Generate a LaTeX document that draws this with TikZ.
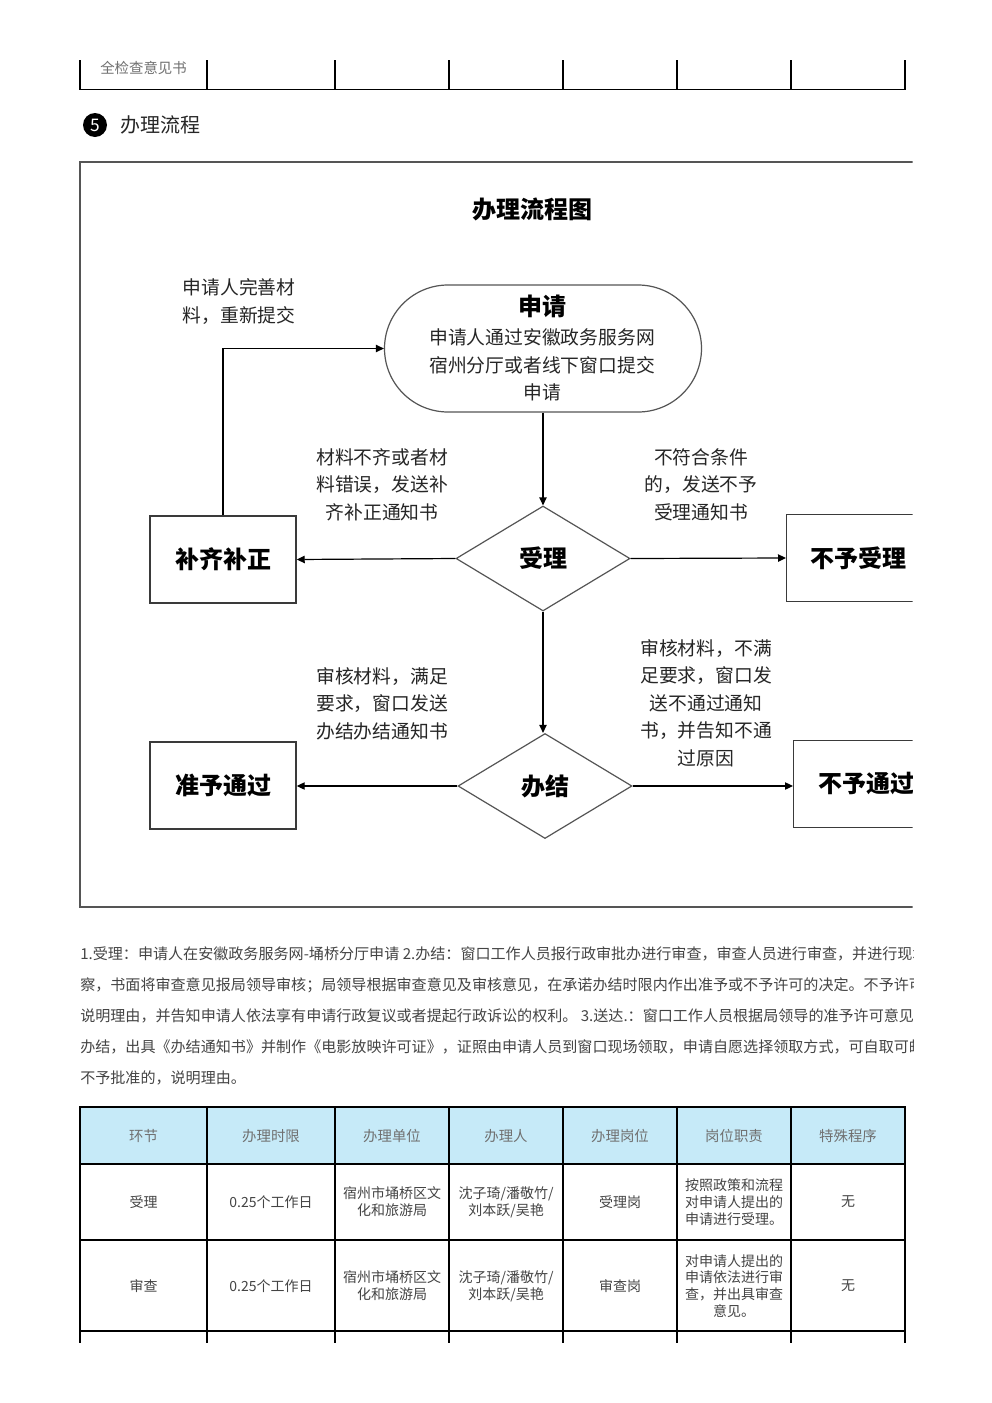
\documentclass[tikz,border=0pt]{standalone}
\usepackage{fontspec}
\setmainfont{Noto Sans CJK SC}
\usetikzlibrary{shapes.geometric,shapes.misc,arrows.meta}
\definecolor{framegray}{HTML}{555555}
\definecolor{boxgray}{HTML}{3A3A3A}
\definecolor{txtgray}{HTML}{444444}
\definecolor{hdrgray}{HTML}{707070}
\definecolor{hdrblue}{HTML}{C6EAF8}
\tikzset{
  flowbox/.style={draw=boxgray,line width=1.1pt,minimum width=146*0.75pt,minimum height=87*0.75pt,inner sep=0pt,
    font=\fontsize{18pt}{22pt}\selectfont\bfseries,text=black},
  decision/.style={diamond,draw=framegray,line width=0.9pt,minimum width=174*0.75pt,minimum height=105*0.75pt,
    aspect=1.66,inner sep=0pt,font=\fontsize{18pt}{22pt}\selectfont\bfseries,text=black},
  lbl/.style={align=center,inner sep=0pt,text=black!85,font=\fontsize{14.1pt}{20.6pt}\selectfont},
  arr/.style={draw=black,line width=0.9pt,-{Triangle[length=6pt,width=5.5pt]}},
  para/.style={anchor=west,inner sep=0pt,text=txtgray,font=\fontsize{11.3pt}{13pt}\selectfont},
  hcell/.style={align=center,inner sep=0pt,text=hdrgray,font=\fontsize{10.8pt}{13pt}\selectfont},
  bcell/.style={align=center,inner sep=0pt,text=txtgray,font=\fontsize{10.5pt}{12.6pt}\selectfont},
  tline/.style={draw=black,line width=1.4pt}
}
\begin{document}
\begin{tikzpicture}[x=0.75pt,y=-0.75pt]
\useasboundingbox[fill=white] (0,0) rectangle (992,1403);

% ---- top table fragment
\foreach \xx in {80,207,335,449,563,677,791,905}{\draw[tline] (\xx,60) -- (\xx,89.5);}
\draw[tline] (79.5,89.5) -- (905.5,89.5);
\node[hcell,text=hdrgray] (topcell) at (143.5,68) {全检查意见书};

% ---- section heading
\node[circle,fill=black,minimum size=24*0.75pt,inner sep=0pt,text=white,font=\fontsize{13pt}{14pt}\selectfont] (num) at (95,125) {5};
\node[anchor=west,inner sep=0pt,font=\fontsize{15pt}{18pt}\selectfont,text=black!85] (head) at (120,125) {办理流程};

% ---- flowchart (clipped at right)
\begin{scope}
\clip (0,150) rectangle (912.5,915);
\draw[draw=framegray,line width=1.6pt] (80,162) -- (80,907) -- (960,907);
\draw[draw=framegray,line width=1.6pt] (79.4,162) -- (960,162);

\node[font=\fontsize{18pt}{22pt}\selectfont\bfseries] (title) at (532,209) {办理流程图};

\node[rounded rectangle,draw=framegray,line width=0.9pt,minimum width=317*0.75pt,minimum height=127*0.75pt,inner sep=0pt] (apply) at (543,348.5) {};
\node[font=\fontsize{18pt}{22pt}\selectfont\bfseries] (applyt) at (542,306) {申请};
\node[lbl] (applyd) at (542,365) {申请人通过安徽政务服务网\\宿州分厅或者线下窗口提交\\申请};

\node[lbl] (resubmit) at (239,301.5) {申请人完善材\\料，重新提交};

\node[decision] (accept) at (543,558.5) {受理};
\node[flowbox] (buqi) at (223,559.5) {补齐补正};
\node[flowbox,anchor=west] (reject) at (786,558) {\hspace*{-2pt}不予受理};

\node[lbl] (lblA) at (382,484.5) {材料不齐或者材\\料错误，发送补\\齐补正通知书};
\node[lbl] (lblB) at (701,484.5) {不符合条件\\的，发送不予\\受理通知书};

\node[decision] (finish) at (545,786) {办结};
\node[flowbox] (pass) at (223,785.5) {准予通过};
\node[flowbox,anchor=west] (fail) at (793,784) {不予通过};

\node[lbl] (lblC) at (382,703.5) {审核材料，满足\\要求，窗口发送\\办结办结通知书};
\node[lbl] (lblD) at (706,703) {审核材料，不满\\足要求，窗口发\\送不通过通知\\书，并告知不通\\过原因};

\draw[arr] (buqi.north) |- (apply.west);
\draw[arr] (apply.south) -- (accept.north);
\draw[arr] (accept.west) -- (buqi.east);
\draw[arr] (accept.east) -- (reject.west);
\draw[arr] (accept.south) -- (finish.north -| accept.south);
\draw[arr] (finish.west) -- (pass.east |- finish.west);
\draw[arr] (finish.east) -- (fail.west |- finish.east);
\end{scope}

% ---- paragraph (clipped at right)
\begin{scope}
\clip (0,930) rectangle (913,1100);
\node[para] (p1) at (80,954) {1.受理：申请人在安徽政务服务网-埇桥分厅申请 2.办结：窗口工作人员报行政审批办进行审查，审查人员进行审查，并进行现场勘};
\node[para] (p2) at (80,985) {察，书面将审查意见报局领导审核；局领导根据审查意见及审核意见，在承诺办结时限内作出准予或不予许可的决定。不予许可的，};
\node[para] (p3) at (80,1016) {说明理由，并告知申请人依法享有申请行政复议或者提起行政诉讼的权利。 3.送达.：窗口工作人员根据局领导的准予许可意见};
\node[para] (p4) at (80,1047) {办结，出具《办结通知书》并制作《电影放映许可证》，证照由申请人员到窗口现场领取，申请自愿选择领取方式，可自取可邮寄};
\node[para] (p5) at (80,1078) {不予批准的，说明理由。};
\end{scope}

% ---- bottom table
\fill[hdrblue] (80,1107) rectangle (905,1164);
\foreach \yy in {1107,1164,1240,1331}{\draw[tline] (79.3,\yy) -- (905.7,\yy);}
\foreach \xx in {80,207,335,449,563,677,791,905}{\draw[tline] (\xx,1107) -- (\xx,1343);}

\node[hcell] (h1) at (143.5,1136) {环节};
\node[hcell] (h2) at (271,1136) {办理时限};
\node[hcell] (h3) at (392,1136) {办理单位};
\node[hcell] (h4) at (506,1136) {办理人};
\node[hcell] (h5) at (620,1136) {办理岗位};
\node[hcell] (h6) at (734,1136) {岗位职责};
\node[hcell] (h7) at (848,1136) {特殊程序};

\node[bcell] (a1) at (143.5,1202) {受理};
\node[bcell] (a2) at (271,1202) {0.25个工作日};
\node[bcell] (a3) at (392,1202) {宿州市埇桥区文\\化和旅游局};
\node[bcell] (a4) at (506,1202) {沈子琦/潘敬竹/\\刘本跃/吴艳};
\node[bcell] (a5) at (620,1202) {受理岗};
\node[bcell] (a6) at (734,1202) {按照政策和流程\\对申请人提出的\\申请进行受理。};
\node[bcell] (a7) at (848,1202) {无};

\node[bcell] (b1) at (143.5,1286) {审查};
\node[bcell] (b2) at (271,1286) {0.25个工作日};
\node[bcell] (b3) at (392,1286) {宿州市埇桥区文\\化和旅游局};
\node[bcell] (b4) at (506,1286) {沈子琦/潘敬竹/\\刘本跃/吴艳};
\node[bcell] (b5) at (620,1286) {审查岗};
\node[bcell] (b6) at (734,1286) {对申请人提出的\\申请依法进行审\\查，并出具审查\\意见。};
\node[bcell] (b7) at (848,1286) {无};
\end{tikzpicture}
\end{document}
